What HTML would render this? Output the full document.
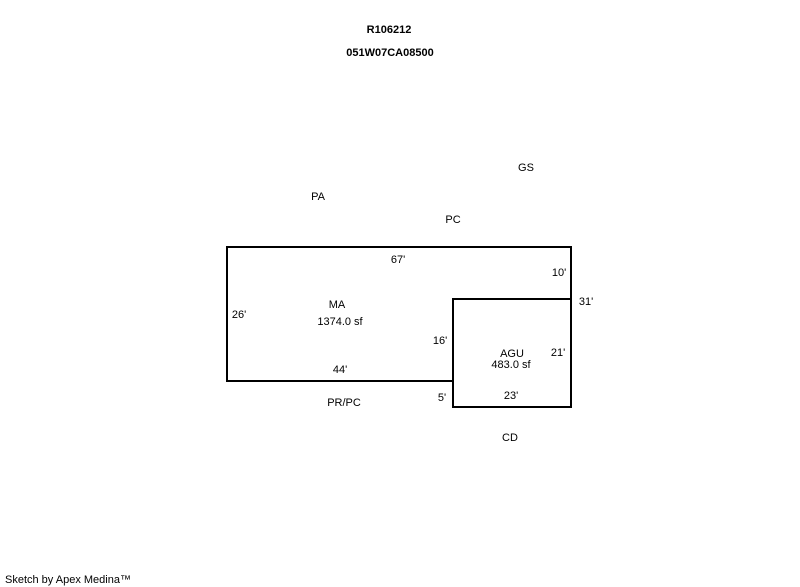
<!DOCTYPE html>
<html><head><meta charset="utf-8"><style>
html,body{margin:0;padding:0;background:#fff;width:800px;height:587px;overflow:hidden}
svg{display:block}
text{font-family:"Liberation Sans",Arial,sans-serif;font-size:11px;fill:#000}
</style></head><body>
<svg width="800" height="587" viewBox="0 0 800 587" xmlns="http://www.w3.org/2000/svg">
<g text-anchor="middle" dominant-baseline="central" transform="translate(0,1)">
<text x="389" y="29" font-weight="bold">R106212</text>
<text x="390" y="52" font-weight="bold">051W07CA08500</text>
<text x="526" y="167">GS</text>
<text x="318" y="196">PA</text>
<text x="453" y="219">PC</text>
<text x="398" y="259">67'</text>
<text x="559" y="272">10'</text>
<text x="586" y="301">31'</text>
<text x="239" y="314">26'</text>
<text x="337" y="304">MA</text>
<text x="340" y="321">1374.0 sf</text>
<text x="440" y="340">16'</text>
<text x="512" y="353">AGU</text>
<text x="511" y="364">483.0 sf</text>
<text x="558" y="352">21'</text>
<text x="340" y="369">44'</text>
<text x="442" y="397">5'</text>
<text x="511" y="395">23'</text>
<text x="344" y="402">PR/PC</text>
<text x="510" y="437">CD</text>
</g>
<text x="5" y="583" font-size="9.5">Sketch by Apex Medina™</text>
<g fill="none" stroke="#000" stroke-width="2">
<polyline points="453,381 227,381 227,247 571,247 571,299"/>
<rect x="453" y="299" width="118" height="108"/>
</g>
</svg>
</body></html>
